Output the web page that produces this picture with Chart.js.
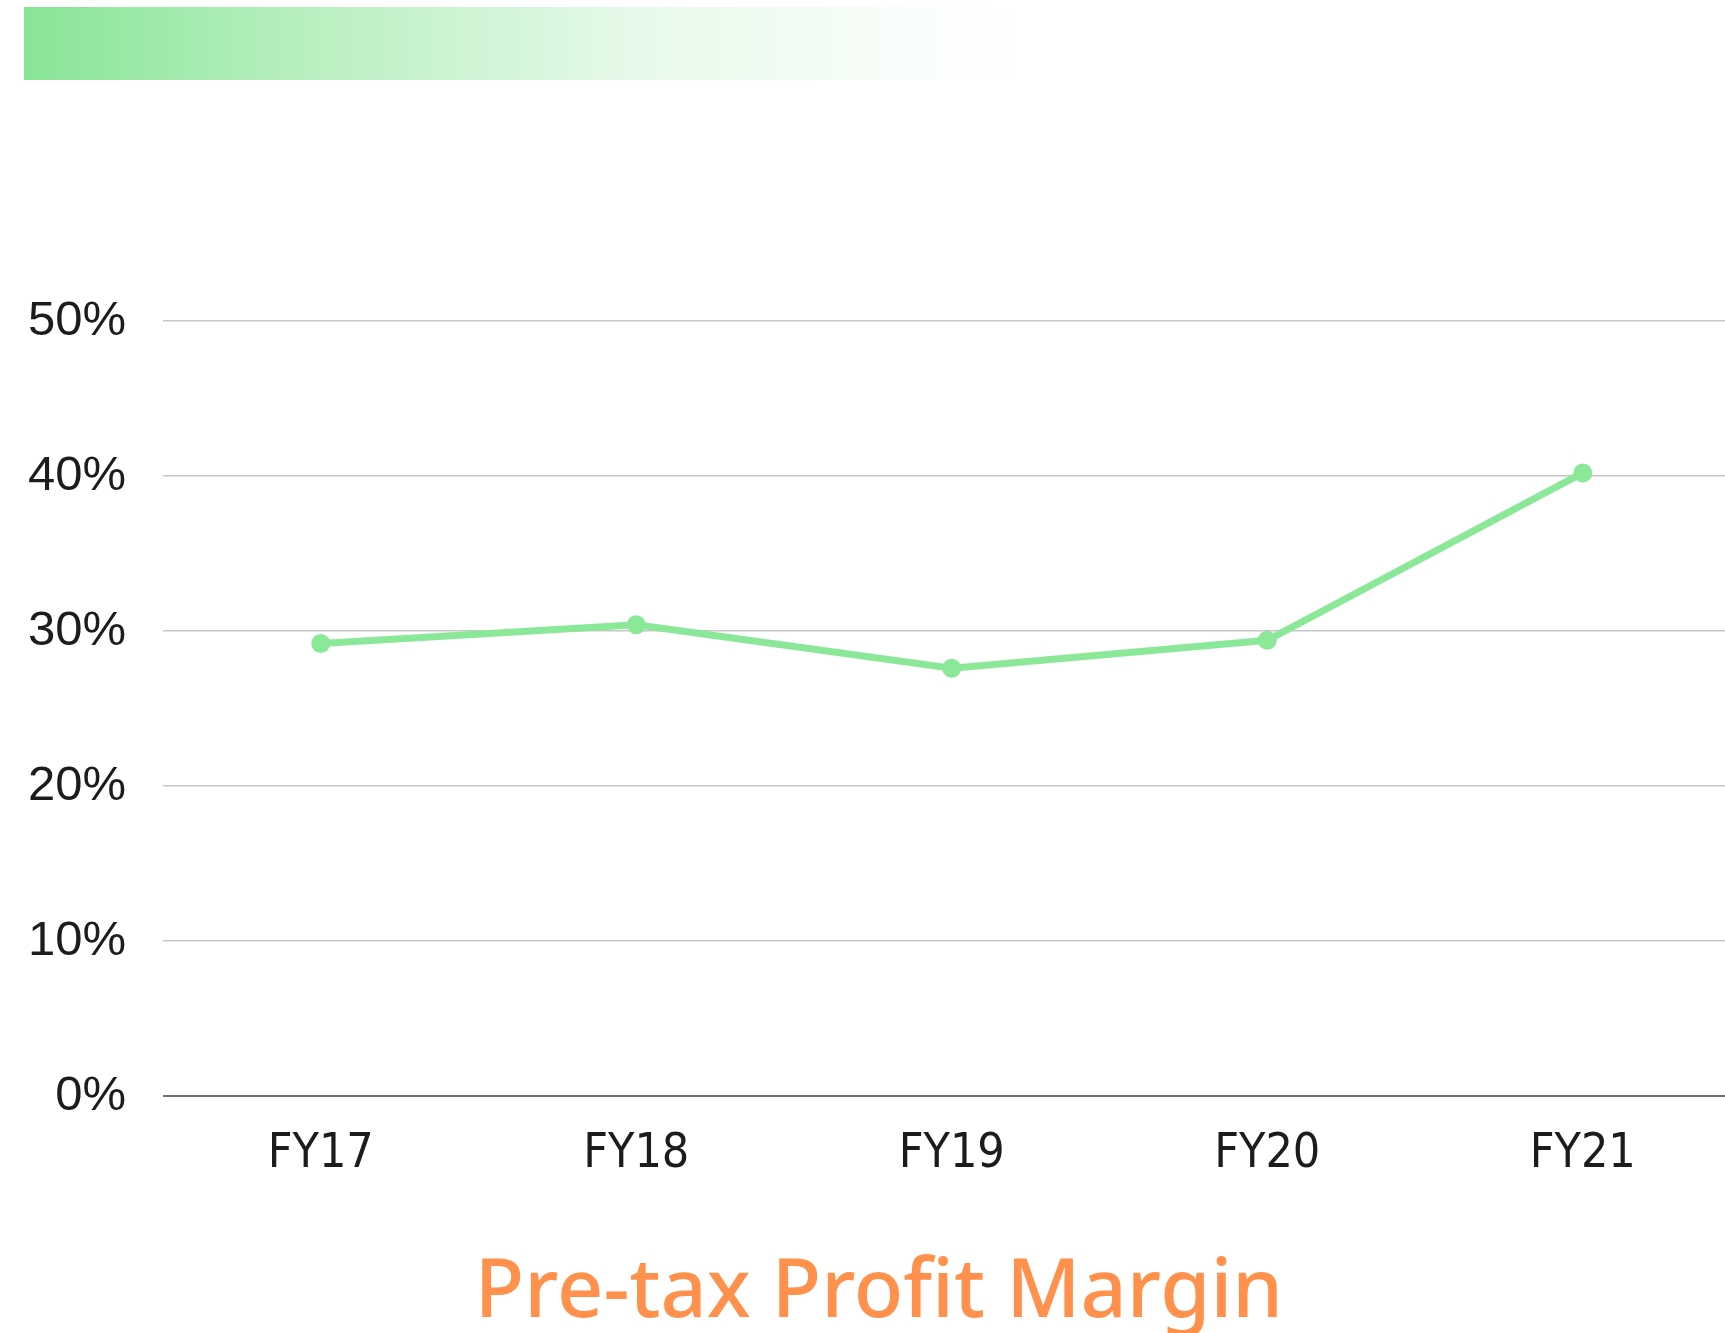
<!DOCTYPE html>
<html>
<head>
<meta charset="utf-8">
<script src="https://cdn.jsdelivr.net/npm/chart.js@4.4.1/dist/chart.umd.min.js"></script>
<style>
  html, body { margin: 0; padding: 0; background: #ffffff; overflow: hidden; width: 1725px; height: 1333px; }
  #bar { position: absolute; left: 24px; top: 7px; width: 1000px; height: 73px;
         background: linear-gradient(to right, rgba(136,229,150,1) 0%, rgba(136,229,150,0.6) 28%, rgba(136,229,150,0.2) 62%, rgba(136,229,150,0.03) 92%, rgba(136,229,150,0) 100%); }
  #wrap { position: absolute; left: 0; top: 0; width: 1750px; height: 1333px; }
</style>
</head>
<body>
<div id="bar"></div>
<div id="wrap"><canvas id="c" width="1750" height="1333"></canvas></div>
<script>
const categories = ["FY17", "FY18", "FY19", "FY20", "FY21"];
const pretaxMargin = [29.2, 30.4, 27.6, 29.4, 40.2];
const yTicks = [0, 10, 20, 30, 40, 50];
const chartTitle = "Pre-tax Profit Margin";

const ctx = document.getElementById('c');
new Chart(ctx, {
  type: 'line',
  data: {
    labels: categories,
    datasets: [{
      label: chartTitle,
      data: pretaxMargin,
      borderColor: '#8AE898',
      backgroundColor: '#8AE898',
      borderWidth: 7,
      pointRadius: 9.5,
      pointBorderWidth: 0,
      pointBackgroundColor: '#8AE898',
      tension: 0,
      fill: false
    }]
  },
  options: {
    responsive: false,
    animation: false,
    devicePixelRatio: 1,
    layout: { padding: { top: 321, left: 8, right: 0, bottom: 0 } },
    plugins: {
      legend: { display: false },
      tooltip: { enabled: false },
      title: {
        display: true,
        position: 'bottom',
        text: chartTitle,
        color: '#FF914D',
        font: { family: "'Noto Sans', Roboto, sans-serif", size: 81, weight: '500', lineHeight: 0.9 },
        padding: { top: 0, bottom: 3 }
      }
    },
    scales: {
      x: {
        offset: true,
        grid: { display: false, drawTicks: false },
        border: { display: false },
        ticks: {
          color: '#1c1c1c',
          font: { family: "'DejaVu Sans Condensed', 'Liberation Sans', sans-serif", size: 48 },
          padding: 30,
          maxRotation: 0
        },
        afterFit: (s) => { s.height = 161; }
      },
      y: {
        min: 0,
        max: 50,
        afterBuildTicks: (s) => { s.ticks = yTicks.map(v => ({ value: v })); },
        grid: {
          drawTicks: false,
          color: (c) => c.tick && c.tick.value === 0 ? '#6f6f6f' : '#c6c6c6',
          lineWidth: (c) => c.tick && c.tick.value === 0 ? 2 : 1.5
        },
        border: { display: false },
        ticks: {
          color: '#1c1c1c',
          font: { family: "'Liberation Sans', Arial, sans-serif", size: 49 },
          padding: 37,
          callback: (v) => v + '%'
        },
        afterFit: (s) => { s.width = 155; }
      }
    }
  }
});
</script>
</body>
</html>
